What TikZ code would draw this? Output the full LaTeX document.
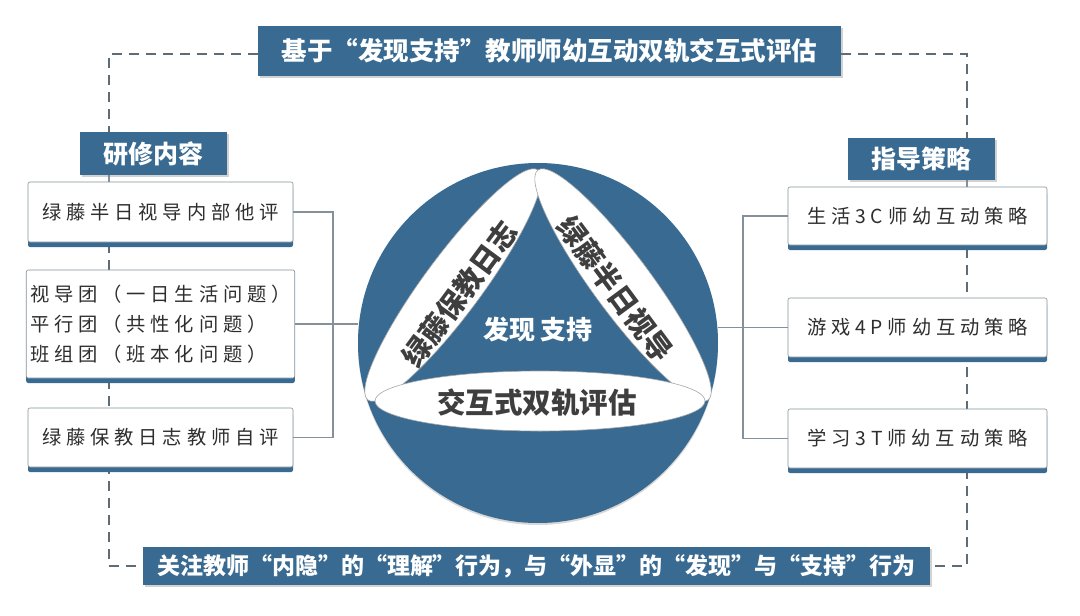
\documentclass[tikz,border=0pt]{standalone}
\usepackage{fontspec}
\setmainfont{Noto Sans CJK SC}
\newfontfamily\spaced[LetterSpace=25]{Noto Sans CJK SC}
\usetikzlibrary{shapes.geometric,shadows,backgrounds}
\definecolor{mblue}{HTML}{386A92}
\definecolor{dgray}{HTML}{5F6B75}
\definecolor{lgray}{HTML}{84919A}
\definecolor{txt}{HTML}{2E2E2E}
\definecolor{btxt}{HTML}{3E3E3E}
\begin{document}
\begin{tikzpicture}[x=1pt,y=-1pt,
 hdr/.style={fill=mblue, text=white, inner sep=0pt,
   drop shadow={shadow xshift=1.5pt, shadow yshift=-2pt, opacity=0.35}},
 card/.style={draw=lgray, line width=0.6pt, fill=white, rounded corners=2pt,
   inner sep=4pt, align=left, text=txt, font=\spaced\fontsize{19.3}{30}\selectfont,
   drop shadow={shadow xshift=0pt, shadow yshift=-5pt, fill=mblue, opacity=1}},
 dashline/.style={dgray, line width=2.6pt, dash pattern=on 10pt off 7pt},
 conn/.style={lgray, line width=1.3pt},
 band/.style={ellipse, fill=white, draw=gray!70, line width=0.6pt, inner sep=0pt},
 bandtxt/.style={text=btxt, font=\bfseries\fontsize{28.5}{30}\selectfont}
]
\useasboundingbox (0,0) rectangle (1080,616);

% headers
\node[hdr, minimum width=583pt, minimum height=50pt, font=\bfseries\fontsize{25.5}{28}\selectfont]
  (title) at (549.5,51) {基于“发现支持”教师师幼互动双轨交互式评估};
\node[hdr, minimum width=147pt, minimum height=43pt, font=\bfseries\fontsize{25}{28}\selectfont]
  (yx) at (153.5,153.5) {研修内容};
\node[hdr, minimum width=147pt, minimum height=42pt, font=\bfseries\fontsize{25}{28}\selectfont]
  (zd) at (921.5,159) {指导策略};
\node[hdr, minimum width=787pt, minimum height=38pt, font=\bfseries\fontsize{23}{26}\selectfont]
  (banner) at (536.5,566) {关注教师“内隐”的“理解”行为，与“外显”的“发现”与“支持”行为};

% left cards
\node[card, minimum width=265pt, minimum height=60pt] (lb1) at (160.5,212) {绿藤半日视导内部他评};
\node[card, minimum width=265pt, minimum height=108pt] (lb2) at (160.5,324)
  {视导团（一日生活问题）\\平行团（共性化问题）\\班组团（班本化问题）};
\node[card, minimum width=265pt, minimum height=59pt] (lb3) at (160.5,437.5) {绿藤保教日志教师自评};

% right cards
\node[card, minimum width=259pt, minimum height=58pt] (rb1) at (917.5,216) {生活3C师幼互动策略};
\node[card, minimum width=259pt, minimum height=59pt] (rb2) at (917.5,327.5) {游戏4P师幼互动策略};
\node[card, minimum width=259pt, minimum height=59pt] (rb3) at (917.5,438.5) {学习3T师幼互动策略};

% central circle
\node[circle, fill=mblue, minimum size=360pt, inner sep=0pt,
  drop shadow={shadow xshift=0pt, shadow yshift=-2pt, opacity=0.3}] (circ) at (538,343) {};
\node[band, minimum width=286pt, minimum height=58pt, rotate=53.5] (el) at (453,285) {};
\node[band, minimum width=286pt, minimum height=58pt, rotate=-53.5] (er) at (623,285) {};
\node[band, minimum width=330pt, minimum height=60pt] (eb) at (540,401) {};
\node[bandtxt, rotate=53.5] (tl) at (460,294) {绿藤保教日志};
\node[bandtxt, rotate=-53.5] (tr) at (615,289) {绿藤半日视导};
\node[bandtxt] (tb) at (537,403) {交互式双轨评估};
\node[text=white, font=\bfseries\fontsize{26}{28}\selectfont] (tc) at (538,330) {发现 支持};

\coordinate (lt) at (109,54);
\coordinate (lbt) at (109,566);
\coordinate (rt) at (967,54);
\coordinate (rbt) at (967,566);
\coordinate (lj) at (333,0);
\coordinate (rj) at (743,0);

\begin{scope}[on background layer]
\fill[white] (0,0) rectangle (1080,616);
\draw[dashline] (title.west |- lt) -- (lt) -- (lt |- yx.north);
\draw[dashline] (lt |- yx.south) -- (lbt) -- (banner.west);
\draw[dashline] (title.east |- rt) -- (rt) -- (rt |- zd.north);
\draw[dashline] (rt |- zd.south) -- (rbt) -- (banner.east);
\draw[conn] (lt |- yx.south) -- (lt |- lb1.north);
\draw[conn] (rt |- zd.south) -- (rt |- rb1.north);
\draw[conn] (lb1.east) -- (lb1.east -| lj) -- (lb3.east -| lj) -- (lb3.east);
\draw[conn] (lb2.east) -- (lb2.east -| circ.west);
\draw[conn] (rb1.west) -- (rb1.west -| rj) -- (rb3.west -| rj) -- (rb3.west);
\draw[conn] (rb2.west -| circ.east) -- (rb2.west);
\end{scope}
\end{tikzpicture}
\end{document}
